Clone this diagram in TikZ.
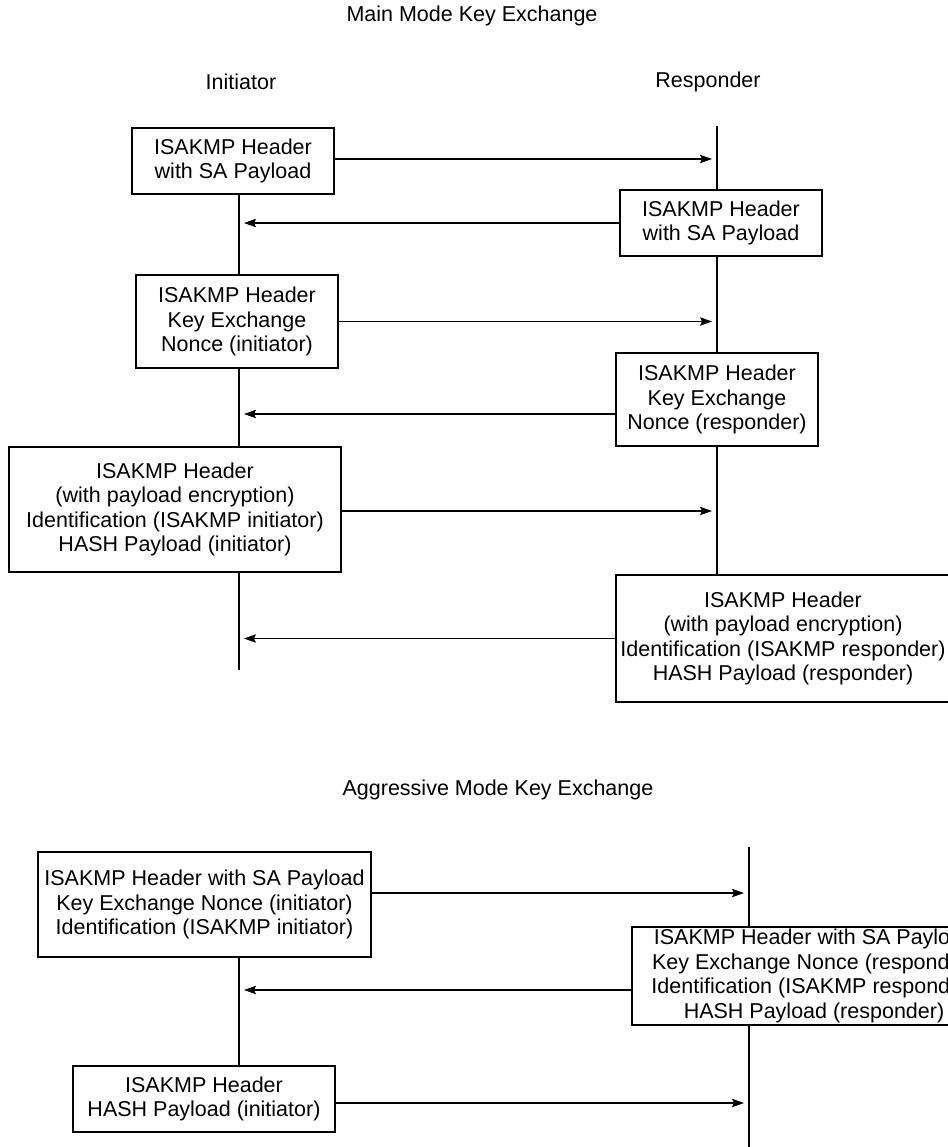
\documentclass[tikz,border=0pt]{standalone}
\usepackage{fontspec}
\setmainfont{Liberation Sans}
\usepackage{tikz}
\usetikzlibrary{arrows.meta,positioning,calc}
\tikzset{
  msgbox/.style={draw, line width=0.6pt, align=center, inner sep=2pt,
                 font=\fontsize{10.75}{12.3}\selectfont},
  hdr/.style={font=\fontsize{10.75}{12.3}\selectfont, inner sep=0pt},
  msg/.style={-{Stealth[length=6pt, width=4.2pt, inset=1pt]}, line width=0.6pt},
  life/.style={line width=0.6pt},
}

\begin{document}
\begin{tikzpicture}[x=0.5pt, y=-0.5pt]
  \useasboundingbox (0,0) rectangle (948,1147);
  \clip (0,0) rectangle (948,1147);

  % main mode
  \node[hdr] (mainT) at (472,16) {Main Mode Key Exchange};
  \node[hdr] (ini) at (241,82) {Initiator};
  \node[hdr] (resp) at (708,82) {Responder};
  \coordinate (iniX) at (239,0);
  \coordinate (respX) at (717,0);
  \coordinate (toR) at (712,0);
  \coordinate (toI) at (244,0);
  \coordinate (respTop) at (717,126);
  \coordinate (iniEnd) at (239,670);

  \node[msgbox, minimum width=101pt, minimum height=33pt] (a1) at (233,161)
    {ISAKMP Header\\with SA Payload};
  \node[msgbox, minimum width=101pt, minimum height=33pt] (r1) at (721,223)
    {ISAKMP Header\\with SA Payload};
  \node[msgbox, minimum width=101pt, minimum height=46.5pt] (a2) at (237,321.5)
    {ISAKMP Header\\Key Exchange\\Nonce (initiator)};
  \node[msgbox, minimum width=101pt, minimum height=46.5pt] (r2) at (717,399.5)
    {ISAKMP Header\\Key Exchange\\Nonce (responder)};
  \node[msgbox, minimum width=166pt, minimum height=62.5pt] (a3) at (175,509.5)
    {ISAKMP Header\\(with payload encryption)\\Identification (ISAKMP initiator)\\HASH Payload (initiator)};
  \node[msgbox, minimum width=167pt, minimum height=63.5pt] (r3) at (783,638.5)
    {ISAKMP Header\\(with payload encryption)\\Identification (ISAKMP responder)\\HASH Payload (responder)};

  \draw[life] (respTop) -- (r1.north -| respX);
  \foreach \u/\v in {a1/a2, a2/a3}
    \draw[life] (\u.south -| iniX) -- (\v.north -| iniX);
  \foreach \u/\v in {r1/r2, r2/r3}
    \draw[life] (\u.south -| respX) -- (\v.north -| respX);
  \draw[life] (a3.south -| iniX) -- (iniEnd);

  \draw[msg] ([yshift=1pt]a1.east) -- ([yshift=1pt]a1.east -| toR);
  \draw[msg] (r1.west) -- (r1.west -| toI);
  \draw[msg] (a2.east) -- (a2.east -| toR);
  \draw[msg] ([yshift=-7.25pt]r2.west) -- ([yshift=-7.25pt]r2.west -| toI);
  \draw[msg] ([yshift=-0.75pt]a3.east) -- ([yshift=-0.75pt]a3.east -| toR);
  \draw[msg] (r3.west) -- (r3.west -| toI);

  % aggressive mode
  \node[hdr] (aggT) at (498,790) {Aggressive Mode Key Exchange};
  \coordinate (respXb) at (749,0);
  \coordinate (toRb) at (744,0);
  \coordinate (respTopB) at (749,847);
  \coordinate (respEndB) at (749,1147);

  \node[msgbox, minimum width=166.5pt, minimum height=52.5pt] (g1) at (204.5,904.5)
    {ISAKMP Header with SA Payload\\Key Exchange Nonce (initiator)\\Identification (ISAKMP initiator)};
  \node[msgbox, inner ysep=0.5pt, minimum width=182pt, minimum height=49pt] (gr) at (814,976)
    {ISAKMP Header with SA Payload\\Key Exchange Nonce (responder)\\Identification (ISAKMP responder)\\HASH Payload (responder)};
  \node[msgbox, minimum width=131pt, minimum height=33pt] (g2) at (204,1099)
    {ISAKMP Header\\HASH Payload (initiator)};

  \draw[life] (respTopB) -- (gr.north -| respXb);
  \draw[life] (gr.south -| respXb) -- (respEndB);
  \draw[life] (g1.south -| iniX) -- (g2.north -| iniX);

  \draw[msg] ([yshift=5.75pt]g1.east) -- ([yshift=5.75pt]g1.east -| toRb);
  \draw[msg] ([yshift=-7pt]gr.west) -- ([yshift=-7pt]gr.west -| toI);
  \draw[msg] ([yshift=-2pt]g2.east) -- ([yshift=-2pt]g2.east -| toRb);
\end{tikzpicture}
\end{document}
